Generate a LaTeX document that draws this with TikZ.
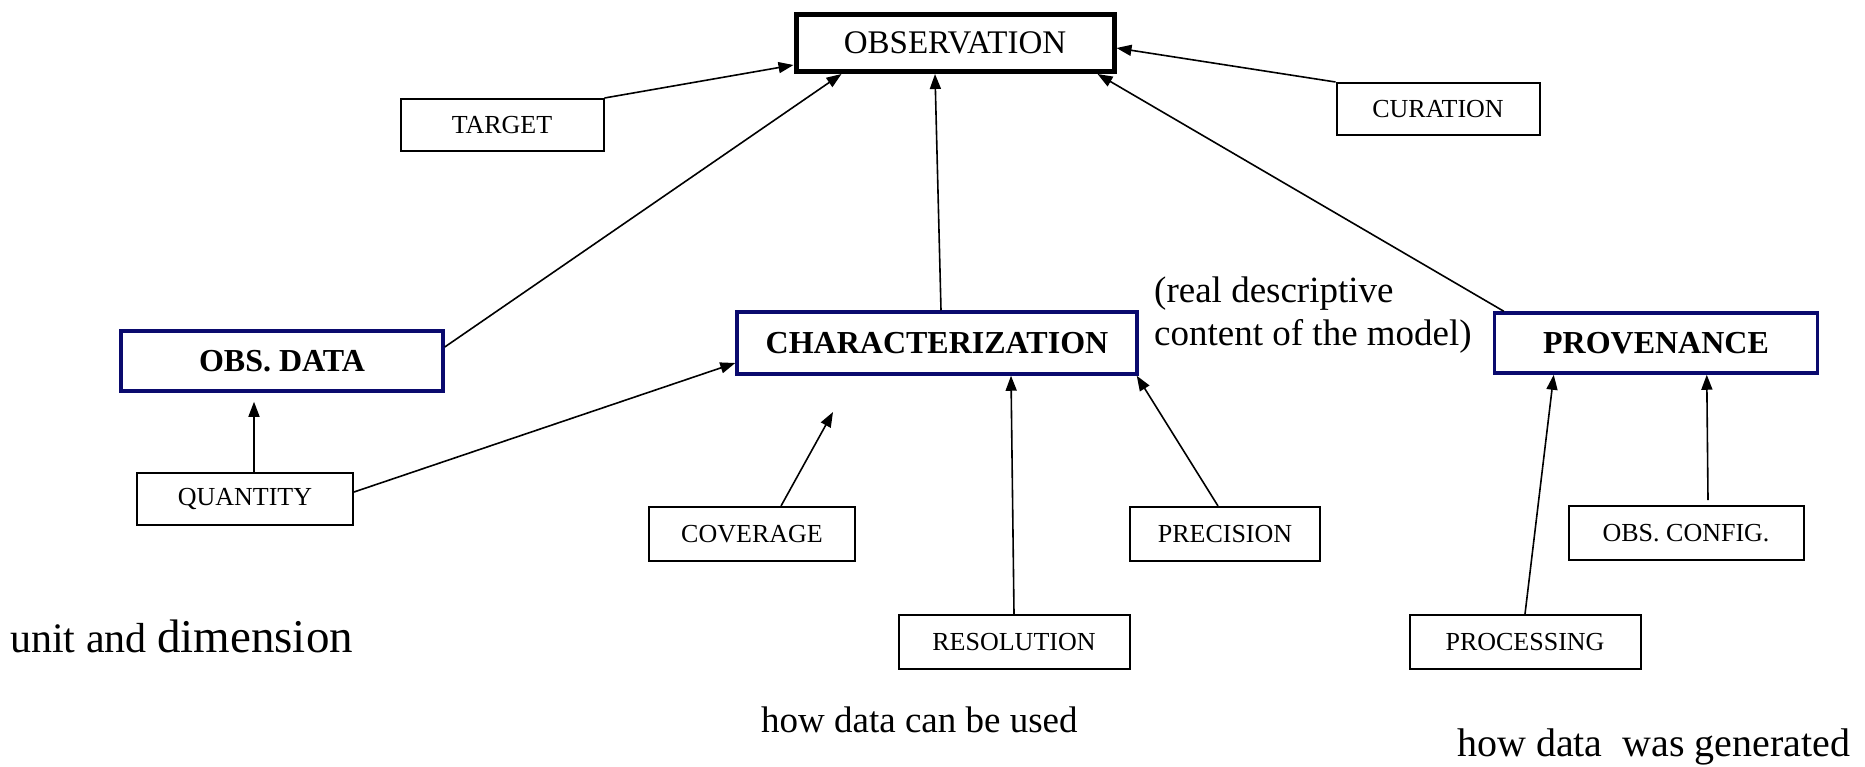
\documentclass[tikz,border=0pt]{standalone}
\usepackage{fontspec}
\setmainfont{Liberation Serif}
\usetikzlibrary{arrows.meta}

\definecolor{boxnavy}{RGB}{10,10,110}

\tikzset{
  leaf/.style={draw, line width=2pt, inner sep=0pt, minimum height=54pt,
    font=\fontsize{26}{30}\selectfont},
  core/.style={draw=boxnavy, line width=3.5pt, inner sep=0pt, minimum height=60pt,
    font=\bfseries\fontsize{32}{36}\selectfont},
  link/.style={line width=1.6pt, -{Triangle[length=15pt,width=11pt]}},
  note/.style={anchor=west, inner sep=0pt, font=\fontsize{37}{43}\selectfont}
}

\begin{document}
\begin{tikzpicture}[x=1pt, y=-1pt]
    \useasboundingbox (0,0) rectangle (1865,766);

    % top of the model
    \node[draw, line width=5pt, inner sep=0pt, minimum width=318pt, minimum height=57pt,
      font=\fontsize{33}{37}\selectfont] (obs) at (955,43) {OBSERVATION};
    \node[leaf, minimum width=203pt, minimum height=52pt] (target) at (502,125) {TARGET};
    \node[leaf, minimum width=203pt, minimum height=52pt] (curation) at (1438,109) {CURATION};

    % the three main parts
    \node[core, minimum width=322pt] (obsdata) at (282,361) {OBS. DATA};
    \node[core, minimum width=400pt, minimum height=62pt] (charac) at (937,343) {CHARACTERIZATION};
    \node[core, minimum width=323pt] (prov) at (1656,343) {PROVENANCE};

    % leaves below
    \node[leaf, minimum width=216pt, minimum height=52pt] (quantity) at (245,499) {QUANTITY};
    \node[leaf, minimum width=206pt] (coverage) at (752,534) {COVERAGE};
    \node[leaf, minimum width=190pt] (precision) at (1225,534) {PRECISION};
    \node[leaf, minimum width=231pt] (resolution) at (1014,642) {RESOLUTION};
    \node[leaf, minimum width=235pt] (obsconfig) at (1686,533) {OBS. CONFIG.};
    \node[leaf, minimum width=231pt] (processing) at (1525,642) {PROCESSING};

    \coordinate (covtip) at (833,412);

    % arrows into OBSERVATION
    \draw[link] (target.north east) -- ([yshift=-22pt]obs.west);
    \draw[link] ([yshift=14pt]obsdata.east) -- ([xshift=48pt]obs.south west);
    \draw[link] ([xshift=4pt]charac.north) -- ([xshift=-20pt]obs.south);
    \draw[link] ([xshift=11pt]prov.north west) -- ([xshift=-19pt]obs.south east);
    \draw[link] (curation.north west) -- ([yshift=-5pt]obs.east);

    % arrows into the main parts
    \draw[link] ([xshift=9pt]quantity.north) -- ([xshift=-28pt,yshift=-9pt]obsdata.south);
    \draw[link] ([yshift=7pt]quantity.east) -- ([yshift=-20pt]charac.west);
    \draw[link] ([xshift=29pt]coverage.north) -- (covtip);
    \draw[link] (resolution.north) -- ([xshift=74pt]charac.south);
    \draw[link] ([xshift=-7pt]precision.north) -- ([xshift=-2pt]charac.south east);
    \draw[link] (processing.north) -- ([xshift=61pt]prov.south west);
    \draw[link] ([xshift=22pt,yshift=5pt]obsconfig.north) -- ([xshift=214pt]prov.south west);

    % notes
    \node[note, align=left] (realnote) at (1154,315) {(real descriptive\\content of the model)};
    \node[note, anchor=base west, font=\fontsize{42}{48}\selectfont] (unitnote) at (10,652)
      {unit and {\fontsize{47}{52}\selectfont dimension}};
    \node[note] (usenote) at (761,720) {how data can be used};
    \node[note, font=\fontsize{40}{46}\selectfont] (gennote) at (1457,747) {how data\ \ was generated};
\end{tikzpicture}
\end{document}
